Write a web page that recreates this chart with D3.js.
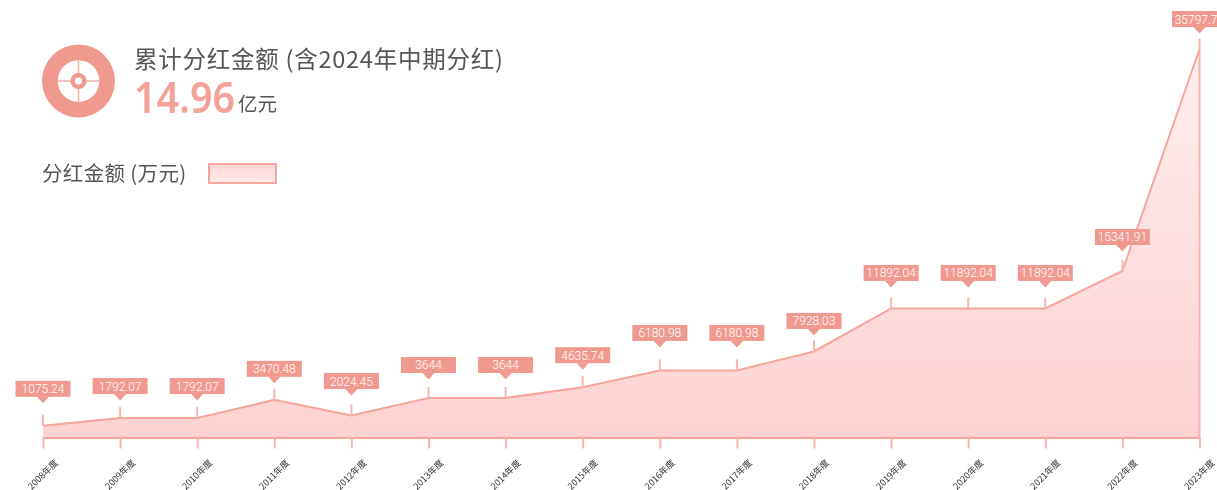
<!DOCTYPE html>
<html>
<head>
<meta charset="utf-8">
<script src="https://cdn.jsdelivr.net/npm/d3@7"></script>
<style>
  html, body { margin: 0; padding: 0; background: #fff; overflow: hidden; }
  text { font-family: "Noto Sans CJK SC", "Noto Sans", sans-serif; }
</style>
</head>
<body>
<div id="chart"></div>
<script>
const years = ["2008年度", "2009年度", "2010年度", "2011年度", "2012年度", "2013年度", "2014年度", "2015年度",
  "2016年度", "2017年度", "2018年度", "2019年度", "2020年度", "2021年度", "2022年度", "2023年度"];
const dividends = [1075.24, 1792.07, 1792.07, 3470.48, 2024.45, 3644, 3644, 4635.74,
  6180.98, 6180.98, 7928.03, 11892.04, 11892.04, 11892.04, 15341.91, 35797.7];
// how far each label's box sits above its point, the original does not keep this constant
const labelLift = [45, 40, 40, 39, 42.5, 41, 41, 40, 45.5, 45.5, 38.5, 43.5, 43.5, 43.5, 42, 38];
const titleText = "累计分红金额 (含2024年中期分红)";
const totalText = "14.96";
const totalUnit = "亿元";
const legendText = "分红金额 (万元)";

const salmon = "#f09a8f";
const lineColor = "#f5a59b";
const tickColor = "#f8b5ac";
const width = 1217, height = 490;
const margin = { left: 43, right: 17.5, top: 49, bottom: 52.5 };

const svg = d3.select("#chart").append("svg")
  .attr("width", width)
  .attr("height", height)
  .style("display", "block")
  .style("opacity", 0.999); // grayscale text edges, no colour fringes on the rotated ticks

const defs = svg.append("defs");
const grad = defs.append("linearGradient").attr("id", "areaFill")
  .attr("x1", 0).attr("x2", 0).attr("y1", 0).attr("y2", 1);
grad.append("stop").attr("offset", "0%").attr("stop-color", "#feeeee");
grad.append("stop").attr("offset", "100%").attr("stop-color", "#fdd2d2");

const legendGrad = defs.append("linearGradient").attr("id", "legendFill")
  .attr("x1", 0).attr("x2", 0).attr("y1", 0).attr("y2", 1);
legendGrad.append("stop").attr("offset", "0%").attr("stop-color", "#fdd5d5");
legendGrad.append("stop").attr("offset", "100%").attr("stop-color", "#feeaea");

const xScale = d3.scalePoint().domain(years).range([margin.left, width - margin.right]);
const yScale = d3.scaleLinear().domain([0, 35797.7]).range([height - margin.bottom, margin.top]);
const baseY = yScale(0);

const area = d3.area()
  .x((d, i) => xScale(years[i]))
  .y0(baseY)
  .y1(d => yScale(d));
const line = d3.line()
  .x((d, i) => xScale(years[i]))
  .y(d => yScale(d));

svg.append("path")
  .attr("d", area(dividends))
  .attr("fill", "url(#areaFill)");

// axis runs along the baseline, its ticks hang below
const xAxis = svg.append("g")
  .attr("transform", `translate(0,${baseY})`)
  .call(d3.axisBottom(xScale).tickSizeInner(11).tickSizeOuter(0).tickPadding(0));
xAxis.select(".domain").attr("stroke", lineColor).attr("stroke-width", 2);
xAxis.selectAll(".tick line").attr("stroke", tickColor).attr("stroke-width", 2);
xAxis.selectAll(".tick text")
  .attr("y", 0)
  .attr("dy", "0.35em")
  .attr("transform", "translate(-0.5,37) rotate(-45)")
  .attr("text-anchor", "middle")
  .attr("font-size", 9)
  .attr("fill", "#333");

svg.append("path")
  .attr("d", line(dividends))
  .attr("fill", "none")
  .attr("stroke", lineColor)
  .attr("stroke-width", 2);

// right edge of the area
svg.append("line")
  .attr("x1", xScale(years[15])).attr("x2", xScale(years[15]))
  .attr("y1", yScale(dividends[15])).attr("y2", baseY)
  .attr("stroke", tickColor).attr("stroke-width", 2);

const pins = svg.selectAll(".pin")
  .data(dividends)
  .enter().append("g")
  .attr("class", "pin")
  .attr("transform", (d, i) => `translate(${xScale(years[i])},${yScale(d)})`);

pins.append("line")
  .attr("y1", 0).attr("y2", -11)
  .attr("stroke", tickColor).attr("stroke-width", 2);
pins.append("rect")
  .attr("x", -27.5).attr("y", (d, i) => -labelLift[i])
  .attr("width", 55).attr("height", 16)
  .attr("fill", salmon);
pins.append("path")
  .attr("d", (d, i) => {
    const b = -labelLift[i] + 16;
    return `M-6,${b}L0,${b + 6.5}L6,${b}Z`;
  })
  .attr("fill", salmon);
pins.append("text")
  // the last label runs off the right edge, nudge it so its digits still fit
  .attr("x", (d, i) => i === dividends.length - 1 ? -3.4 : 0)
  .attr("y", (d, i) => -labelLift[i] + 12.5)
  .attr("text-anchor", "middle")
  .attr("font-size", 12)
  .attr("fill", "#fff")
  .style("font-family", "Roboto, 'Noto Sans', sans-serif")
  .style("font-weight", 300)
  .text(d => d);

// target icon
const icon = svg.append("g").attr("transform", "translate(78.5,81)");
icon.append("circle").attr("r", 36.5).attr("fill", salmon);
icon.append("circle").attr("r", 20.8).attr("fill", "#fff");
icon.append("path")
  .attr("d", "M-20.8,0H20.8M0,-20.8V20.8")
  .attr("stroke", "#f5b0a8").attr("stroke-width", 1.5);
icon.append("circle").attr("r", 5.8).attr("fill", "#fff").attr("stroke", salmon).attr("stroke-width", 4.5);

svg.append("text")
  .attr("x", 134).attr("y", 67.5)
  .attr("font-size", 23.5)
  .attr("letter-spacing", 0.75)
  .attr("fill", "#555")
  .text(titleText);
svg.append("text")
  .attr("x", 134).attr("y", 113)
  .attr("font-size", 44)
  .attr("font-weight", 600)
  .attr("fill", "#f4a298")
  .attr("textLength", 101)
  .attr("lengthAdjust", "spacingAndGlyphs")
  .style("font-family", "'Noto Sans', sans-serif")
  .text(totalText);
svg.append("text")
  .attr("x", 238).attr("y", 111)
  .attr("font-size", 19.5)
  .attr("fill", "#555")
  .text(totalUnit);
svg.append("text")
  .attr("x", 42).attr("y", 180.5)
  .attr("font-size", 20.5)
  .attr("letter-spacing", 0.35)
  .attr("fill", "#555")
  .text(legendText);
svg.append("rect")
  .attr("x", 209).attr("y", 164)
  .attr("width", 67).attr("height", 19)
  .attr("fill", "url(#legendFill)")
  .attr("stroke", lineColor)
  .attr("stroke-width", 2);
</script>
</body>
</html>
